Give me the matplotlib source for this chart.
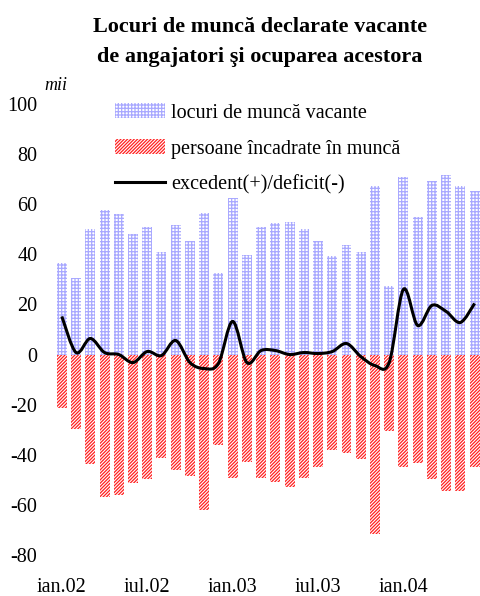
import numpy as np
import matplotlib
matplotlib.use('Agg')
import matplotlib.pyplot as plt
from matplotlib.path import Path
from matplotlib.patches import PathPatch

plt.rcParams['font.family'] = ['Liberation Serif', 'DejaVu Serif']
plt.rcParams['axes.unicode_minus'] = False
plt.rcParams['hatch.linewidth'] = 0.9

# monthly data, ian.02 - iun.04 (mii)
vacante = [36.4, 30.4, 50.0, 57.6, 56.0, 48.0, 50.8, 40.8, 51.6, 45.2, 56.4, 32.4,
           62.4, 39.6, 50.8, 52.4, 52.8, 50.0, 45.2, 39.2, 43.6, 40.8, 67.2, 27.2,
           70.8, 54.8, 69.2, 71.6, 67.2, 65.2]
incadrate = [-21.2, -29.6, -43.6, -56.8, -56.0, -51.2, -49.6, -41.2, -46.0, -48.4, -62.0, -36.0,
             -49.2, -42.8, -49.2, -50.8, -52.8, -49.2, -44.8, -38.0, -39.2, -41.6, -71.6, -30.4,
             -44.8, -43.2, -49.6, -54.4, -54.4, -44.8]
tick_pos = [0, 6, 12, 18, 24]
tick_labels = ['ian.02', 'iul.02', 'ian.03', 'iul.03', 'ian.04']

x = np.arange(len(vacante))
excedent = np.array(vacante) + np.array(incadrate)

fig = plt.figure(figsize=(4.81, 5.96), dpi=100)
ax = fig.add_axes([54 / 481, 1 - 575 / 596, 427 / 481, 471 / 596])

b1 = ax.bar(x, vacante, width=0.7, color='white', edgecolor='#a8a8ff', hatch='+++++',
            linewidth=0, label='locuri de muncă vacante')
b2 = ax.bar(x, incadrate, width=0.7, color='white', edgecolor='#ff2020', hatch='//////////',
            linewidth=0, label='persoane încadrate în muncă')

# smoothed line through the points (cubic bezier segments)
pts = np.column_stack([x, excedent])
verts = [pts[0]]
codes = [Path.MOVETO]
n = len(pts)
for i in range(n - 1):
    p0 = pts[max(i - 1, 0)]
    p1 = pts[i]
    p2 = pts[i + 1]
    p3 = pts[min(i + 2, n - 1)]
    verts += [p1 + (p2 - p0) / 6, p2 - (p3 - p1) / 6, p2]
    codes += [Path.CURVE4] * 3
ax.add_patch(PathPatch(Path(verts, codes), fill=False, edgecolor='black', lw=2.2))
ln, = ax.plot([], [], color='black', lw=2.2, label='excedent(+)/deficit(-)')

ax.set_xlim(-0.55, 29.45)
ax.set_ylim(-88, 100)
ax.set_yticks(range(-80, 101, 20))
ax.set_xticks(tick_pos)
ax.set_xticklabels(tick_labels)
ax.tick_params(length=0, labelsize=14.5)
ax.tick_params(axis='y', pad=12)
ax.tick_params(axis='x', pad=2)
for s in ax.spines.values():
    s.set_visible(False)

ax.legend(handles=[b1, b2, ln], loc='upper left', bbox_to_anchor=(115 / 481, 1 - 103 / 596),
          bbox_transform=fig.transFigure, frameon=False, fontsize=14.5,
          handlelength=2.5, handleheight=0.8, handletextpad=0.3, labelspacing=0.8,
          borderpad=0, borderaxespad=0)

fig.text(260 / 481, 1 - 27 / 596, 'Locuri de muncă declarate vacante', ha='center', va='center',
         fontsize=16, fontweight='bold')
fig.text(260 / 481, 1 - 57 / 596, 'de angajatori şi ocuparea acestora', ha='center', va='center',
         fontsize=16, fontweight='bold')
fig.text(44 / 481, 1 - 86 / 596, 'mii', ha='left', va='center', fontsize=13, style='italic')

fig.savefig('out.png', dpi=100)
